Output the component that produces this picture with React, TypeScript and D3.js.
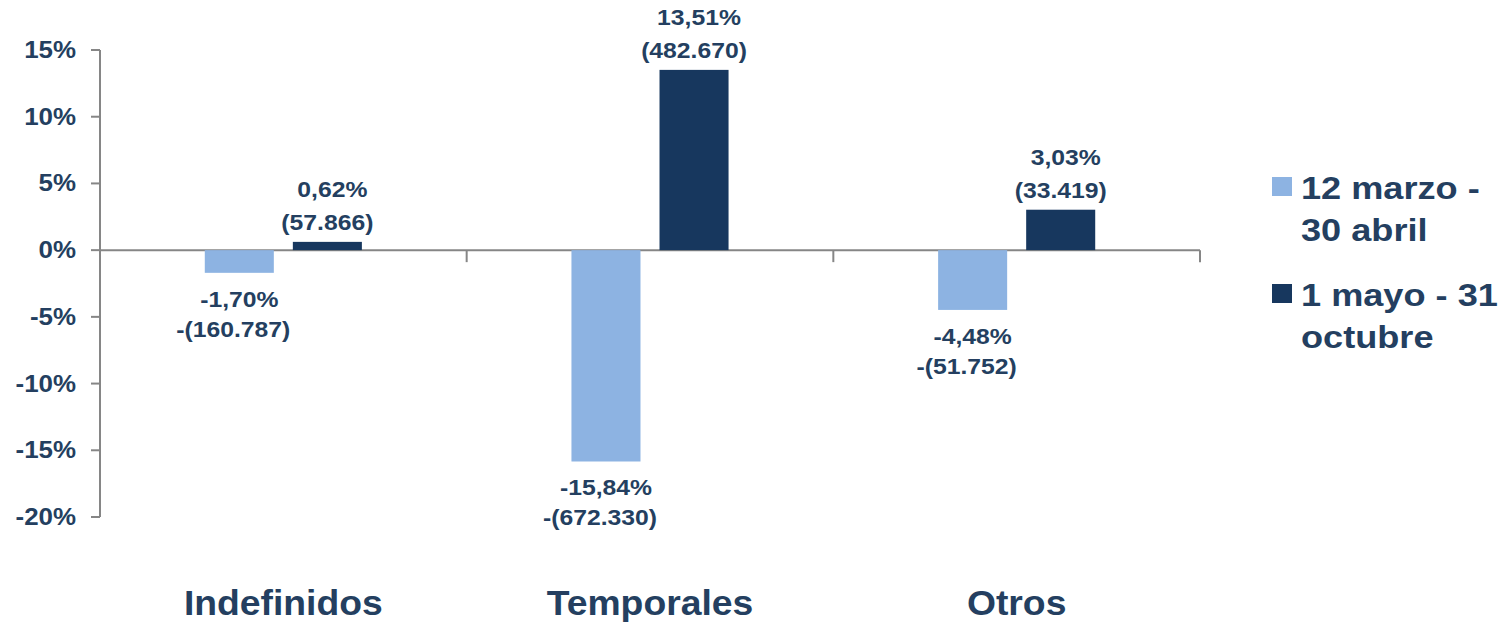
import * as d3 from "d3";

// --- Данные ---
const categories = ["Indefinidos", "Temporales", "Otros"];
const seriesKeys = ["s1", "s2"];
const legendLines = [
  ["12 marzo -", "30 abril"],
  ["1 mayo - 31", "octubre"],
];
const pctMarzoAbril = [-1.7, -15.84, -4.48];
const pctMayoOctubre = [0.62, 13.51, 3.03];
const countMarzoAbril = [-160787, -672330, -51752];
const countMayoOctubre = [57866, 482670, 33419];
const yTicks = [15, 10, 5, 0, -5, -10, -15, -20];

const COLORS = {
  text: "#243F60",
  light: "#8DB3E2",
  dark: "#17375E",
  axis: "#868686",
};

const W = 1505;
const H = 624;
const PLOT = { left: 100, right: 1200, top: 50, bottom: 517 };
const FONT = "'Liberation Sans', Arial, sans-serif";

const fmtPct = (v: number) => v.toFixed(2).replace(".", ",") + "%";
const fmtCount = (v: number) => {
  const s = "(" + d3.format(",")(Math.abs(v)).replace(/,/g, ".") + ")";
  return v < 0 ? "-" + s : s;
};

type LabelProps = {
  x: number;
  y: number;
  size: number;
  sx: number;
  anchor?: "start" | "middle" | "end";
  children: string;
};

// текст с небольшим растяжением по горизонтали (оригинал шире Arial)
function Label({ x, y, size, sx, anchor = "middle", children }: LabelProps) {
  return (
    <text
      transform={`translate(${x},${y}) scale(${sx},1)`}
      textAnchor={anchor}
      fontSize={size}
      fontWeight="bold"
      fontFamily={FONT}
      fill={COLORS.text}
    >
      {children}
    </text>
  );
}

export default function App() {
  const y = d3
    .scaleLinear()
    .domain([-20, 15])
    .range([PLOT.bottom, PLOT.top]);

  const x0 = d3
    .scaleBand<string>()
    .domain(categories)
    .range([PLOT.left, PLOT.right]);

  const x1 = d3
    .scaleBand<string>()
    .domain(seriesKeys)
    .range([0, x0.bandwidth()])
    .paddingInner(0.216)
    .paddingOuter(1.19);

  const series = [
    { key: "s1", color: COLORS.light, pct: pctMarzoAbril, cnt: countMarzoAbril },
    { key: "s2", color: COLORS.dark, pct: pctMayoOctubre, cnt: countMayoOctubre },
  ];

  const y0 = y(0);
  const bw = x1.bandwidth();

  return (
    <svg
      width={W}
      height={H}
      style={{ position: "absolute", left: 0, top: 0, background: "#fff" }}
    >
      {/* ось Y */}
      <line
        x1={PLOT.left}
        x2={PLOT.left}
        y1={y(15)}
        y2={y(-20)}
        stroke={COLORS.axis}
        strokeWidth={2}
      />
      {yTicks.map((t) => (
        <g key={t}>
          <line
            x1={PLOT.left - 9}
            x2={PLOT.left}
            y1={y(t)}
            y2={y(t)}
            stroke={COLORS.axis}
            strokeWidth={2}
          />
          <Label x={76} y={y(t) + 8} size={24} sx={1.08} anchor="end">
            {t + "%"}
          </Label>
        </g>
      ))}

      {/* ось X на нуле */}
      <line
        x1={PLOT.left}
        x2={PLOT.right}
        y1={y0}
        y2={y0}
        stroke={COLORS.axis}
        strokeWidth={2}
      />
      {categories.map((c) => {
        const xe = (x0(c) ?? 0) + x0.bandwidth();
        return (
          <line
            key={c}
            x1={xe}
            x2={xe}
            y1={y0}
            y2={y0 + 12}
            stroke={COLORS.axis}
            strokeWidth={2}
          />
        );
      })}

      {/* столбцы и подписи */}
      {series.map((s) =>
        categories.map((c, i) => {
          const v = s.pct[i];
          const bx = (x0(c) ?? 0) + (x1(s.key) ?? 0);
          const cx = bx + bw / 2;
          const top = Math.min(y(v), y0);
          const bottom = Math.max(y(v), y0);
          return (
            <g key={s.key + c}>
              <rect
                x={bx}
                y={top}
                width={bw}
                height={bottom - top}
                fill={s.color}
              />
              {v >= 0 ? (
                <>
                  <Label x={cx + 5} y={top - 45} size={21.5} sx={1.15}>
                    {fmtPct(v)}
                  </Label>
                  <Label x={cx} y={top - 12} size={21.5} sx={1.15}>
                    {fmtCount(s.cnt[i])}
                  </Label>
                </>
              ) : (
                <>
                  <Label x={cx} y={bottom + 34} size={21.5} sx={1.15}>
                    {fmtPct(v)}
                  </Label>
                  <Label x={cx - 6} y={bottom + 64} size={21.5} sx={1.15}>
                    {fmtCount(s.cnt[i])}
                  </Label>
                </>
              )}
            </g>
          );
        })
      )}

      {/* подписи категорий */}
      {categories.map((c) => (
        <Label
          key={c}
          x={(x0(c) ?? 0) + x0.bandwidth() / 2}
          y={615}
          size={35}
          sx={1.066}
        >
          {c}
        </Label>
      ))}

      {/* легенда */}
      {series.map((s, i) => {
        const ly = 199 + i * 107;
        return (
          <g key={s.key}>
            <rect x={1272} y={ly - 22} width={20} height={19} fill={s.color} />
            {legendLines[i].map((line, j) => (
              <Label
                key={j}
                x={1301}
                y={ly + j * 42}
                size={32}
                sx={1.13}
                anchor="start"
              >
                {line}
              </Label>
            ))}
          </g>
        );
      })}
    </svg>
  );
}
